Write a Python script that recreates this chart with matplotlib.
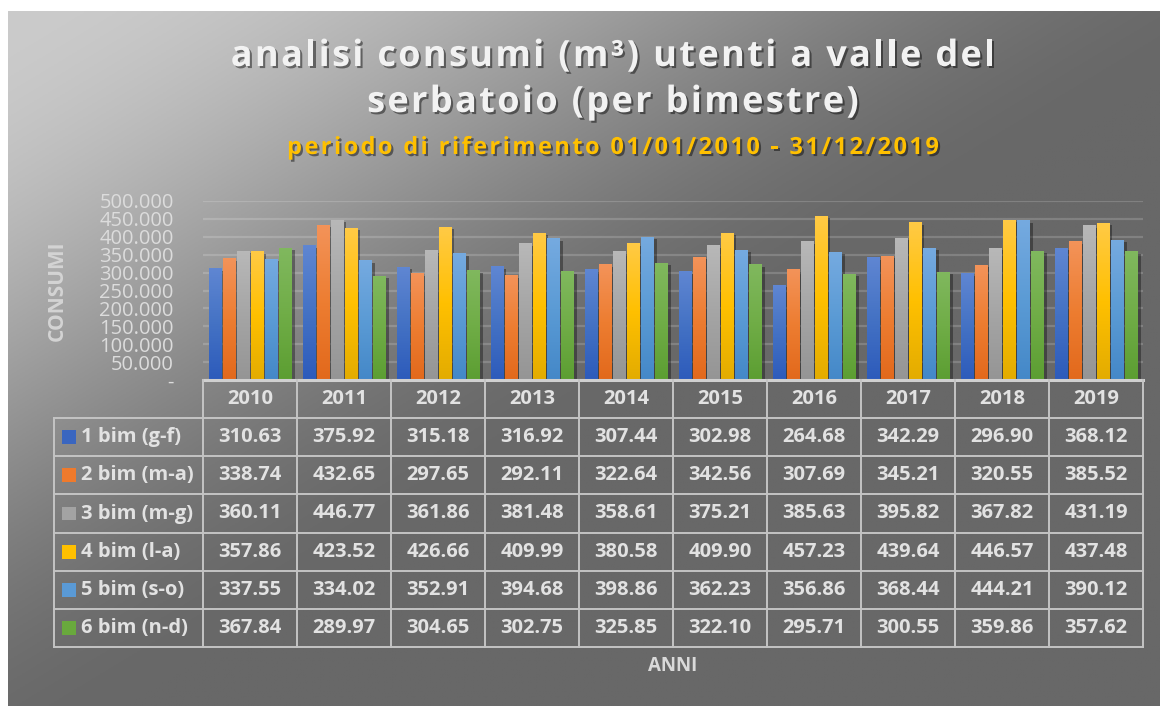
import matplotlib
matplotlib.use("Agg")
import matplotlib.pyplot as plt
import matplotlib.patheffects as pe
import numpy as np
from matplotlib.colors import LinearSegmentedColormap, to_rgb
from matplotlib.font_manager import FontProperties

plt.rcParams["font.family"] = ["Open Sans", "DejaVu Sans"]

# data (thousand m3 per bimester, as shown in the table)
years = ["2010", "2011", "2012", "2013", "2014", "2015", "2016", "2017", "2018", "2019"]
series_names = ["1 bim (g-f)", "2 bim (m-a)", "3 bim (m-g)", "4 bim (l-a)", "5 bim (s-o)", "6 bim (n-d)"]
bim1 = [310.63, 375.92, 315.18, 316.92, 307.44, 302.98, 264.68, 342.29, 296.90, 368.12]
bim2 = [338.74, 432.65, 297.65, 292.11, 322.64, 342.56, 307.69, 345.21, 320.55, 385.52]
bim3 = [360.11, 446.77, 361.86, 381.48, 358.61, 375.21, 385.63, 395.82, 367.82, 431.19]
bim4 = [357.86, 423.52, 426.66, 409.99, 380.58, 409.90, 457.23, 439.64, 446.57, 437.48]
bim5 = [337.55, 334.02, 352.91, 394.68, 398.86, 362.23, 356.86, 368.44, 444.21, 390.12]
bim6 = [367.84, 289.97, 304.65, 302.75, 325.85, 322.10, 295.71, 300.55, 359.86, 357.62]
series = [bim1, bim2, bim3, bim4, bim5, bim6]
y_ticks = [0, 50, 100, 150, 200, 250, 300, 350, 400, 450, 500]
y_tick_labels = ["-", "50.000", "100.000", "150.000", "200.000", "250.000",
                 "300.000", "350.000", "400.000", "450.000", "500.000"]

# (top, mid, bottom) colours of each bar gradient
bar_grads = [
    ("#5f86d2", "#4472c4", "#2d5bbb"),
    ("#f39359", "#ed7d31", "#e2691c"),
    ("#b8b8b8", "#a5a5a5", "#959595"),
    ("#ffca45", "#ffc000", "#e3ac00"),
    ("#75aae0", "#5b9bd5", "#4488c8"),
    ("#80b85e", "#70ad47", "#5c9e32"),
]
key_colors = ["#3a66c0", "#ef7a2c", "#a3a3a3", "#ffc000", "#5a9ad6", "#69a93d"]

W, H = 1160, 706
fig = plt.figure(figsize=(W / 100, H / 100), dpi=100, facecolor="white")
renderer = fig.canvas.get_renderer()


def spaced_text(xc_px, yc_px, s, spacing, size, color, effects=None):
    """Centre a line of text at pixel (xc, yc) with extra letter spacing."""
    prop = FontProperties(family=["Open Sans", "DejaVu Sans"], weight="bold", size=size)
    bar_w = renderer.get_text_width_height_descent("||", prop, ismath=False)[0]
    adv = [renderer.get_text_width_height_descent("|" + c + "|", prop, ismath=False)[0] - bar_w
           for c in s]
    total = sum(adv) + spacing * (len(s) - 1)
    xpos = xc_px - total / 2
    for c, a in zip(s, adv):
        if c != " ":
            fig.text(xpos / W, 1 - yc_px / H, c, ha="left", va="center",
                     fontproperties=prop, color=color, path_effects=effects)
        xpos += a + spacing


# background gradient (light top-left to dark grey)
bg = fig.add_axes([8 / W, 0, 1 - 8 / W, 1 - 11 / H], zorder=-10)
u, v = np.meshgrid(np.linspace(0, 1, 400), np.linspace(0, 1, 250))
t = np.clip((0.5 * u + 0.5 * v) / 0.55, 0, 1)
t = t * t * (3 - 2 * t)
light, dark = np.array(to_rgb("#cbcbcb")), np.array(to_rgb("#686868"))
img = light[None, None, :] + (dark - light)[None, None, :] * t[..., None]
bg.imshow(img, aspect="auto", extent=[0, 1, 0, 1], origin="upper")
bg.axis("off")

# bar chart axes
ax = fig.add_axes([203 / W, 1 - 380 / H, 940 / W, 179 / H])
ax.patch.set_alpha(0)
n = len(series)
slot = 0.894 / n
bw = slot * 0.86
x = np.arange(len(years))
grad = np.linspace(0, 1, 64).reshape(-1, 1)
for i, vals in enumerate(series):
    cmap = LinearSegmentedColormap.from_list(f"g{i}", list(bar_grads[i]))
    pos = x - 0.447 + slot * (i + 0.5)
    bars = ax.bar(pos, vals, width=bw, color=bar_grads[i][1], zorder=2,
                  path_effects=[pe.SimplePatchShadow(offset=(2.5, -1.5), alpha=0.35,
                                                     shadow_rgbFace="black"), pe.Normal()])
    for b in bars:
        x0, w, h = b.get_x(), b.get_width(), b.get_height()
        ax.imshow(grad, cmap=cmap, aspect="auto", origin="upper",
                  extent=[x0, x0 + w, 0, h], zorder=3)

ax.set_xlim(-0.5, len(years) - 0.5)
ax.set_ylim(0, 500)
ax.set_yticks(y_ticks)
ax.set_yticklabels(y_tick_labels)
ax.tick_params(axis="y", length=0, pad=21, labelsize=14.5, labelcolor="#dcdcdc")
ax.tick_params(axis="x", length=0, labelbottom=False)
ax.grid(axis="y", color="white", alpha=0.17, linewidth=1.6)
ax.set_axisbelow(True)
for s in ax.spines.values():
    s.set_visible(False)

# data table below the chart
label_w = (203 - 54) / 94
tab = fig.add_axes([54 / W, 1 - 647 / H, (1143 - 54) / W, (647 - 380) / H])
tab.set_xlim(-0.5 - label_w, len(years) - 0.5)
tab.set_ylim(7, 0)
tab.axis("off")
lc = "#c4c4c4"
lw = 1.4
xl, xr = -0.5 - label_w, len(years) - 0.5
tab.plot([-0.5, xr], [0, 0], color="#d0d0d0", lw=2.2, clip_on=False)
for r in range(1, 8):
    tab.plot([xl, xr], [r, r], color=lc, lw=lw, clip_on=False)
tab.plot([xl, xl], [1, 7], color=lc, lw=lw, clip_on=False)
for c in range(len(years) + 1):
    tab.plot([c - 0.5, c - 0.5], [0, 7], color=lc, lw=lw, clip_on=False)

txt = "#e2e2e2"
for c, yr in enumerate(years):
    tab.text(c, 0.5, yr, ha="center", va="center", fontsize=14.5, fontweight="bold", color=txt)
for r, (name, vals) in enumerate(zip(series_names, series)):
    yy = r + 1.5
    tab.add_patch(plt.Rectangle((xl + 0.085, yy - 0.18), 0.15, 0.36,
                                color=key_colors[r], lw=0))
    tab.text(xl + 0.29, yy, name, ha="left", va="center", fontsize=14.5,
             fontweight="bold", color=txt)
    for c, v in enumerate(vals):
        tab.text(c, yy, f"{v:.2f}", ha="center", va="center", fontsize=14.5,
                 fontweight="bold", color=txt)

# titles and axis labels
shadow = [pe.withSimplePatchShadow(offset=(1.5, -1.5), shadow_rgbFace="black", alpha=0.45)]
spaced_text(613, 57, "analisi consumi (m³) utenti a valle del", 2.3, 26, "#f2f2f2", shadow)
spaced_text(613, 103, "serbatoio (per bimestre)", 2.3, 26, "#f2f2f2", shadow)
spaced_text(613, 148, "periodo di riferimento 01/01/2010 - 31/12/2019", 2.4, 17, "#ffc000", shadow)
fig.text(57 / W, 1 - 291 / H, "CONSUMI", rotation=90, ha="center", va="center",
         fontsize=15, fontweight="bold", color="#d4d4d4")
fig.text(673 / W, 1 - 666 / H, "ANNI", ha="center", va="center",
         fontsize=13.5, fontweight="bold", color="#d9d9d9")

fig.savefig("out.png", dpi=100, facecolor="white")
